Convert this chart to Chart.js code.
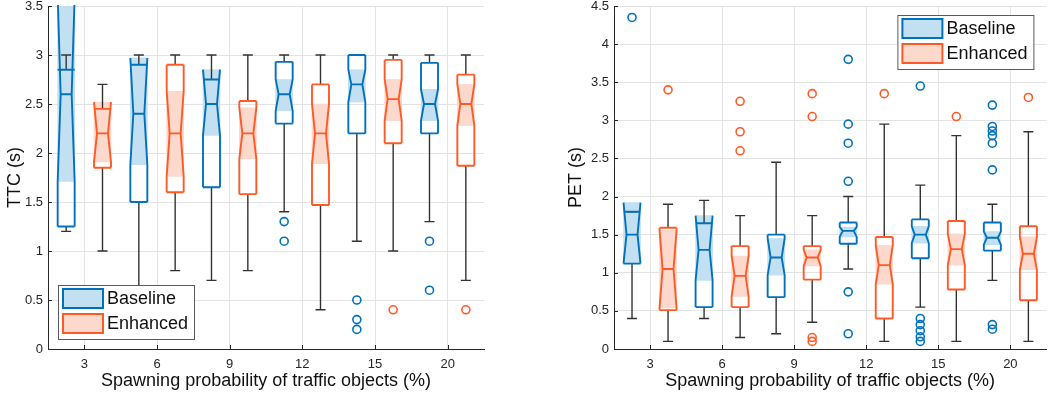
<!DOCTYPE html>
<html>
<head>
<meta charset="utf-8">
<script src="https://cdn.jsdelivr.net/npm/chart.js"></script>
<style>
  html, body { margin: 0; padding: 0; background: #fff; }
  #wrap { position: relative; width: 1052px; height: 397px; }
  #ttc { position: absolute; left: 0; top: 0; }
  #pet { position: absolute; left: 560px; top: 0; }
</style>
</head>
<body>
<div id="wrap">
  <canvas id="ttc" width="500" height="397"></canvas>
  <canvas id="pet" width="492" height="397"></canvas>
</div>
<script>
  // spawning probability (%)
  const categories = ['3', '6', '9', '12', '15', '20'];

  // each box: [whiskerLow, q1, notchLow, median, notchHigh, q3, whiskerHigh]
  const ttcBaseline = [
    [1.2, 1.25, 1.71, 2.6, 3.6, 2.85, 3.0],
    [0.3, 1.5, 1.88, 2.4, 2.97, 2.9, 3.0],
    [0.7, 1.65, 2.18, 2.5, 2.85, 2.75, 3.0],
    [1.4, 2.3, 2.43, 2.6, 2.75, 2.93, 3.0],
    [1.1, 2.2, 2.52, 2.7, 2.85, 3.0, 3.0],
    [1.3, 2.2, 2.33, 2.5, 2.65, 2.92, 3.0]
  ];
  const ttcEnhanced = [
    [1.0, 1.85, 1.91, 2.2, 2.52, 2.45, 2.7],
    [0.8, 1.6, 1.76, 2.2, 2.63, 2.9, 3.0],
    [0.8, 1.58, 1.94, 2.2, 2.46, 2.53, 3.0],
    [0.4, 1.47, 1.89, 2.2, 2.5, 2.7, 3.0],
    [1.0, 2.1, 2.33, 2.55, 2.75, 2.95, 3.0],
    [0.7, 1.87, 2.28, 2.5, 2.7, 2.8, 3.0]
  ];
  const ttcBaselineOut = [[], [], [], [1.3, 1.1], [0.5, 0.3, 0.2], [1.1, 0.6]];
  const ttcEnhancedOut = [[], [], [], [], [0.4], [0.4]];

  const petBaseline = [
    [0.4, 1.12, 1.12, 1.5, 1.92, 1.8, 1.8],
    [0.4, 0.55, 0.9, 1.3, 1.75, 1.65, 1.95],
    [0.2, 0.68, 0.97, 1.2, 1.45, 1.5, 2.45],
    [1.05, 1.38, 1.47, 1.55, 1.6, 1.66, 2.0],
    [0.55, 1.19, 1.39, 1.5, 1.61, 1.7, 2.15],
    [0.9, 1.29, 1.37, 1.46, 1.54, 1.66, 1.9]
  ];
  const petEnhanced = [
    [0.1, 0.51, 0.54, 1.05, 1.56, 1.59, 1.9],
    [0.15, 0.55, 0.69, 0.96, 1.22, 1.35, 1.75],
    [0.35, 0.91, 1.09, 1.2, 1.3, 1.35, 1.75],
    [0.1, 0.4, 0.85, 1.1, 1.36, 1.47, 2.95],
    [0.1, 0.78, 1.1, 1.31, 1.51, 1.68, 2.8],
    [0.1, 0.64, 1.04, 1.25, 1.47, 1.61, 2.85]
  ];
  const petBaselineOut = [[4.35], [], [], [3.8, 2.95, 2.7, 2.2, 0.75, 0.2],
    [3.45, 0.4, 0.32, 0.24, 0.16, 0.1], [3.2, 2.92, 2.86, 2.8, 2.7, 2.35, 0.32, 0.26]];
  const petEnhancedOut = [[3.4], [3.25, 2.85, 2.6], [3.35, 3.05, 0.15, 0.1], [3.35], [3.05], [3.3]];

  const blue = '#0072BD', blueFill = '#C3E0F2';
  const orange = '#FF5A26', orangeFill = '#FDD9CD';
  const ink = '#262626';
  const shift = 0.25; // half distance between the two boxes of a group
  const font = 'Liberation Sans, Arial, Helvetica, sans-serif';

  const boxPlugin = {
    id: 'boxes',
    afterDatasetsDraw(chart, args, opts) {
      const {ctx, chartArea: a, scales: {x, y}} = chart;
      ctx.save();
      ctx.beginPath();
      ctx.rect(a.left, a.top - 1, a.width, a.height + 1);
      ctx.clip();
      opts.series.forEach(s => {
        s.boxes.forEach((b, i) => {
          const cx = x.getPixelForValue(i + 1 + s.shift);
          const [wlo, q1, nlo, med, nhi, q3, whi] = b.map(v => y.getPixelForValue(v));
          const half = 8.5, ind = 3, cap = 5;
          const L = cx - half, R = cx + half;
          // whiskers
          ctx.strokeStyle = '#333';
          ctx.lineWidth = 1.4;
          ctx.beginPath();
          ctx.moveTo(cx, q3); ctx.lineTo(cx, whi);
          ctx.moveTo(cx - cap, whi); ctx.lineTo(cx + cap, whi);
          ctx.moveTo(cx, q1); ctx.lineTo(cx, wlo);
          ctx.moveTo(cx - cap, wlo); ctx.lineTo(cx + cap, wlo);
          ctx.stroke();
          // notched outline
          const bot = Math.max(q1, nlo), top = Math.min(q3, nhi);
          ctx.strokeStyle = s.color;
          ctx.lineWidth = 1.9;
          ctx.beginPath();
          ctx.moveTo(L, bot); ctx.lineTo(L, nlo); ctx.lineTo(L + ind, med); ctx.lineTo(L, nhi); ctx.lineTo(L, top);
          ctx.moveTo(R, bot); ctx.lineTo(R, nlo); ctx.lineTo(R - ind, med); ctx.lineTo(R, nhi); ctx.lineTo(R, top);
          ctx.moveTo(L, q1); ctx.lineTo(R, q1);
          ctx.moveTo(L, q3); ctx.lineTo(R, q3);
          ctx.moveTo(L + ind, med); ctx.lineTo(R - ind, med);
          ctx.stroke();
        });
      });
      ctx.restore();
      // inward tick marks
      ctx.save();
      ctx.strokeStyle = ink;
      ctx.lineWidth = 1;
      ctx.beginPath();
      x.ticks.forEach(t => {
        const px = Math.round(x.getPixelForValue(t.value)) + 0.5;
        ctx.moveTo(px, a.bottom); ctx.lineTo(px, a.bottom - 4);
      });
      y.ticks.forEach(t => {
        const py = Math.round(y.getPixelForValue(t.value)) + 0.5;
        ctx.moveTo(a.left, py); ctx.lineTo(a.left + 4, py);
      });
      ctx.stroke();
      ctx.restore();
    },
    afterDraw(chart, args, opts) {
      const {ctx, chartArea: a} = chart;
      const w = 136, h = 54;
      const lx = opts.legendAt === 'bottomleft' ? a.left + 10 : a.right - 149;
      const ly = opts.legendAt === 'bottomleft' ? a.bottom - 64 : a.top + 9;
      ctx.save();
      ctx.fillStyle = '#fff';
      ctx.fillRect(lx, ly, w, h);
      ctx.strokeStyle = '#5a5a5a';
      ctx.lineWidth = 1;
      ctx.strokeRect(lx + 0.5, ly + 0.5, w, h);
      opts.series.forEach((s, k) => {
        const sy = ly + 4 + k * 25;
        ctx.fillStyle = s.fill;
        ctx.fillRect(lx + 5, sy, 40, 19);
        ctx.strokeStyle = s.color;
        ctx.lineWidth = 2;
        ctx.strokeRect(lx + 5, sy, 40, 19);
        ctx.fillStyle = '#111';
        ctx.font = '18px ' + font;
        ctx.textBaseline = 'middle';
        ctx.fillText(s.label, lx + 49, sy + 10);
      });
      ctx.restore();
    }
  };

  function makeChart(id, yTitle, yMax, base, enh, baseOut, enhOut, legendAt, axisWidth, titlePad, rightPad) {
    const series = [
      {label: 'Baseline', boxes: base, out: baseOut, shift: -shift, color: blue, fill: blueFill},
      {label: 'Enhanced', boxes: enh, out: enhOut, shift: shift, color: orange, fill: orangeFill}
    ];
    const datasets = [];
    series.forEach(s => {
      datasets.push({
        type: 'bar',
        label: s.label,
        data: s.boxes.map((b, i) => ({x: i + 1 + s.shift, y: [b[2], b[4]]})),
        backgroundColor: s.fill,
        borderWidth: 0,
        barThickness: 17,
        grouped: false
      });
    });
    series.forEach(s => {
      const pts = [];
      s.out.forEach((list, i) => list.forEach(v => pts.push({x: i + 1 + s.shift, y: v})));
      datasets.push({
        type: 'scatter',
        label: s.label + ' outliers',
        data: pts,
        pointStyle: 'circle',
        pointRadius: 4,
        pointBorderWidth: 1.6,
        borderColor: s.color,
        backgroundColor: 'rgba(255,255,255,0)'
      });
    });

    return new Chart(document.getElementById(id), {
      type: 'bar',
      data: {datasets},
      plugins: [boxPlugin],
      options: {
        responsive: false,
        animation: false,
        layout: {padding: {top: 0, right: rightPad, left: 0, bottom: 0}},
        scales: {
          x: {
            type: 'linear',
            min: 0.5,
            max: 6.5,
            offset: false,
            afterBuildTicks: s => { s.ticks = categories.map((c, i) => ({value: i + 1})); },
            afterFit: s => { s.height = 48; s.paddingLeft = 0; s.paddingRight = 0; },
            ticks: {
              callback: v => categories[v - 1],
              autoSkip: false,
              maxRotation: 0,
              padding: 8,
              color: ink,
              font: {family: font, size: 13}
            },
            grid: {color: '#e3e3e3', drawTicks: false, offset: false},
            border: {color: ink, width: 1},
            title: {
              display: true,
              text: 'Spawning probability of traffic objects (%)',
              color: '#111',
              font: {family: font, size: 18},
              padding: {top: 0, bottom: 5}
            }
          },
          y: {
            min: 0,
            max: yMax,
            afterBuildTicks: s => {
              const t = [];
              for (let v = 0; v <= yMax + 1e-9; v += 0.5) t.push({value: v});
              s.ticks = t;
            },
            afterFit: s => { s.width = axisWidth; s.paddingTop = 6; s.paddingBottom = 0; },
            ticks: {
              padding: 5,
              color: ink,
              font: {family: font, size: 13},
              callback: v => String(Math.round(v * 10) / 10)
            },
            grid: {color: '#e3e3e3', drawTicks: false},
            border: {color: ink, width: 1},
            title: {
              display: true,
              text: yTitle,
              color: '#111',
              font: {family: font, size: 18},
              padding: {top: titlePad, bottom: 0}
            }
          }
        },
        plugins: {
          legend: {display: false},
          tooltip: {enabled: false},
          boxes: {series, legendAt}
        }
      }
    });
  }

  makeChart('ttc', 'TTC (s)', 3.5, ttcBaseline, ttcEnhanced, ttcBaselineOut, ttcEnhancedOut, 'bottomleft', 48, 4, 16);
  makeChart('pet', 'PET (s)', 4.5, petBaseline, petEnhanced, petBaselineOut, petEnhancedOut, 'topright', 54, 5, 2);
</script>
</body>
</html>
